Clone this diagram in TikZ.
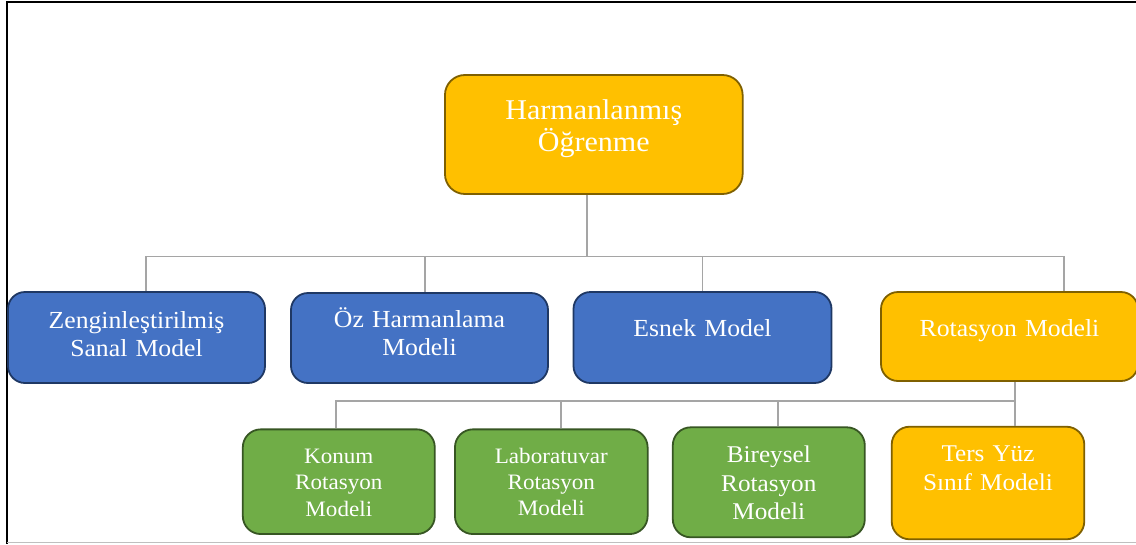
\documentclass[tikz,border=0pt]{standalone}
\usepackage{fontspec}
\setmainfont{Liberation Serif}[FakeStretch=1.05]
\definecolor{goldfill}{HTML}{FFC000}
\definecolor{goldline}{HTML}{7F6000}
\definecolor{bluefill}{HTML}{4472C4}
\definecolor{blueline}{HTML}{1F3864}
\definecolor{greenfill}{HTML}{70AD47}
\definecolor{greenline}{HTML}{375623}
\definecolor{conngray}{HTML}{A5A5A5}
\definecolor{edgegray}{HTML}{BFBFBF}
\begin{document}
\begin{tikzpicture}[x=1pt,y=-1pt,
  box/.style={rectangle, line width=1.8pt, inner sep=0pt, rounded corners=17pt},
  goldbox/.style={box, fill=goldfill, draw=goldline},
  bluebox/.style={box, fill=bluefill, draw=blueline},
  greenbox/.style={box, fill=greenfill, draw=greenline},
  lbl/.style={text=white, align=center, anchor=base, inner sep=0pt, text width=260pt},
  fa/.style={font=\fontsize{28.6}{32.4}\selectfont},
  fb/.style={font=\fontsize{24.5}{28}\selectfont},
  fc/.style={font=\fontsize{22}{26.3}\selectfont},
  fd/.style={font=\fontsize{24}{28.5}\selectfont},
  conn/.style={draw=conngray, line width=1.9pt},
]
\useasboundingbox (0,0) rectangle (1136,544);

% page frame
\draw[line width=2pt] (1136,2) -- (7,2) -- (7,544);
\draw[edgegray, line width=1pt] (7,542.5) -- (1136,542.5);

% boxes
\node[goldbox, rounded corners=20pt, minimum width=297.7pt, minimum height=119pt] (root) at (593.8,134.5) {};
\node[bluebox, minimum width=257pt, minimum height=91pt] (zen) at (136.5,337.5) {};
\node[bluebox, minimum width=257pt, minimum height=90pt] (oz) at (419.5,338) {};
\node[bluebox, minimum width=258pt, minimum height=91pt] (esnek) at (702.5,337.5) {};
\node[goldbox, minimum width=257pt, minimum height=89pt] (rot) at (1009.5,336.5) {};
\node[greenbox, rounded corners=18pt, minimum width=192pt, minimum height=104.7pt] (konum) at (338.8,481.7) {};
\node[greenbox, rounded corners=18pt, minimum width=192.7pt, minimum height=104.7pt] (lab) at (551.3,481.7) {};
\node[greenbox, rounded corners=18pt, minimum width=192pt, minimum height=110pt] (bir) at (768.8,482.3) {};
\node[goldbox, rounded corners=18pt, minimum width=192.6pt, minimum height=112.6pt] (ters) at (988,483) {};

% labels
\node[lbl, fa] (root-t) at (593.8,119.3) {Harmanlanmış\\Öğrenme};
\node[lbl, fb] (zen-t) at (136.5,328.3) {Zenginleştirilmiş\\Sanal Model};
\node[lbl, fb] (oz-t) at (419.5,327.3) {Öz Harmanlama\\Modeli};
\node[lbl, fb] (esnek-t) at (702.5,336.7) {Esnek Model};
\node[lbl, fb] (rot-t) at (1009.5,336) {Rotasyon Modeli};
\node[lbl, fc] (konum-t) at (338.8,463.5) {Konum\\Rotasyon\\Modeli};
\node[lbl, fc] (lab-t) at (551.3,463.3) {Laboratuvar\\Rotasyon\\Modeli};
\node[lbl, fd] (bir-t) at (768.8,462.7) {Bireysel\\Rotasyon\\Modeli};
\node[lbl, fd] (ters-t) at (988,461.7) {Ters Yüz\\Sınıf Modeli};

% first level connectors
\coordinate (j1) at (587,256.5);
\draw[conn] (root.south -| j1) -- (j1);
\draw[conn] (j1) -| ([xshift=9.5pt]zen.north);
\draw[conn] (j1) -| ([xshift=5.5pt]oz.north);
\draw[conn] (j1) -| (esnek.north);
\draw[conn] (j1) -| ([xshift=54.5pt]rot.north);

% second level connectors
\coordinate (j2) at (1015,401);
\draw[conn] (rot.south -| j2) -- (j2);
\draw[conn] (j2) -| ([xshift=-2.8pt]konum.north);
\draw[conn] (j2) -| ([xshift=9.7pt]lab.north);
\draw[conn] (j2) -| ([xshift=9.2pt]bir.north);
\draw[conn] (j2) -| ([xshift=27pt]ters.north);
\end{tikzpicture}
\end{document}
